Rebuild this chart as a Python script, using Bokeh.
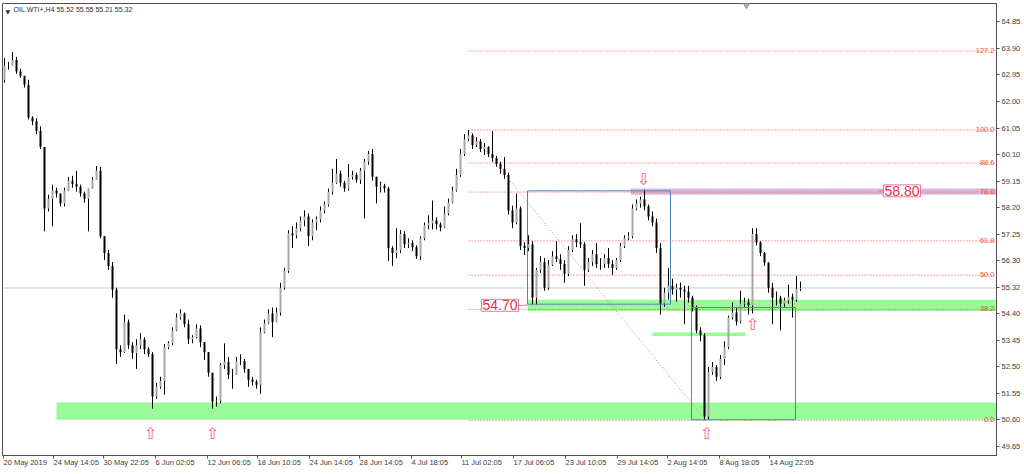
from bokeh.plotting import figure
from bokeh.models import ColumnDataSource, Range1d, FixedTicker, NumeralTickFormatter, Label, Span
from bokeh.core.properties import value
from bokeh.embed import file_html
from bokeh.resources import INLINE

# ---------------- data ----------------
chart_title = "OIL.WTI+,H4  55.52 55.55 55.21 55.32"
last_price = 55.32
first_open = 62.78

closes = [63.28, 63.28, 63.49, 63.07, 62.92, 62.60, 61.43, 61.29, 60.94, 60.37,
          58.17, 58.52, 58.81, 58.70, 58.35, 58.81, 59.16, 59.05, 58.95, 58.70,
          58.52, 58.88, 59.20, 59.52, 57.17, 56.57, 56.11, 55.26, 53.13, 53.02,
          54.09, 53.27, 52.99, 53.27, 53.48, 53.13, 52.95, 51.43, 51.78, 51.99,
          53.20, 53.34, 53.80, 54.26, 54.41, 54.02, 53.48, 53.56, 53.87, 53.38,
          53.02, 52.28, 51.25, 51.28, 52.56, 52.67, 52.21, 52.21, 52.70, 52.70,
          52.42, 52.03, 51.96, 51.85, 53.73, 54.05, 54.41, 54.09, 54.44, 55.33,
          55.93, 57.28, 57.21, 57.46, 57.74, 57.88, 57.17, 57.67, 57.78, 58.10,
          58.31, 58.77, 59.09, 59.41, 59.09, 58.88, 59.30, 59.37, 59.20, 59.52,
          59.84, 60.12, 59.30, 58.95, 58.98, 58.88, 56.75, 56.57, 56.68, 57.25,
          56.89, 56.93, 56.78, 56.46, 57.10, 57.57, 57.64, 57.74, 57.60, 57.49,
          57.99, 58.38, 58.81, 59.37, 60.12, 60.65, 60.79, 60.44, 60.58, 60.30,
          60.37, 60.12, 59.98, 59.76, 59.59, 59.37, 58.10, 57.67, 58.17, 56.82,
          56.75, 56.89, 54.97, 55.97, 56.25, 55.33, 56.15, 56.46, 56.36, 56.18,
          55.83, 56.68, 57.07, 56.96, 56.89, 55.97, 56.25, 56.53, 56.18, 56.18,
          56.39, 56.18, 56.04, 56.32, 56.82, 57.10, 57.17, 58.17, 58.35, 58.49,
          58.24, 57.88, 57.67, 56.75, 54.76, 55.15, 55.40, 55.26, 55.33, 55.26,
          55.19, 54.97, 54.62, 53.80, 53.63, 50.72, 52.31, 52.49, 52.14, 52.78,
          53.20, 54.26, 54.44, 54.12, 54.76, 54.80, 54.69, 57.25, 56.96, 56.57,
          56.22, 55.33, 54.97, 54.97, 54.76, 54.87, 55.01, 54.90, 55.29, 55.32]

highs = [63.56, 63.42, 63.77, 63.60, 63.17, 62.82, 62.78, 61.47, 61.40, 61.11,
         60.37, 58.66, 59.02, 58.91, 58.70, 58.91, 59.30, 59.34, 59.52, 59.02,
         58.77, 58.88, 59.30, 59.69, 59.66, 57.17, 56.68, 56.25, 55.33, 53.27,
         54.37, 54.19, 53.38, 53.48, 53.70, 53.56, 53.20, 53.02, 51.92, 52.14,
         53.31, 53.41, 53.91, 54.41, 54.55, 54.44, 54.19, 53.63, 54.02, 53.98,
         53.38, 53.02, 52.28, 51.43, 52.63, 53.34, 52.85, 52.42, 52.85, 52.95,
         52.78, 52.42, 52.14, 52.03, 53.91, 54.19, 54.55, 54.62, 54.62, 55.51,
         56.04, 57.39, 57.53, 57.67, 57.88, 58.10, 57.99, 57.78, 57.88, 58.24,
         58.42, 58.88, 59.59, 59.94, 59.52, 59.16, 59.76, 59.52, 59.45, 59.62,
         59.94, 60.23, 60.30, 59.30, 59.13, 59.05, 58.95, 56.82, 57.46, 57.39,
         57.35, 57.10, 57.03, 56.85, 57.17, 57.67, 57.92, 58.45, 57.85, 57.67,
         58.24, 58.52, 58.95, 59.59, 60.30, 60.83, 60.98, 60.86, 60.72, 60.65,
         60.51, 60.40, 60.94, 60.05, 59.84, 60.01, 59.45, 58.27, 58.70, 58.24,
         56.96, 57.21, 57.00, 56.04, 56.46, 56.39, 56.32, 56.64, 57.00, 56.53,
         56.32, 56.82, 57.21, 57.25, 57.64, 56.96, 56.39, 56.68, 56.93, 56.39,
         56.53, 56.75, 56.32, 56.39, 56.93, 57.21, 57.32, 58.31, 58.49, 58.59,
         58.84, 58.31, 58.06, 57.81, 56.93, 55.33, 56.04, 55.65, 55.47, 55.51,
         55.40, 55.40, 55.04, 54.69, 53.91, 53.70, 52.49, 52.67, 52.56, 52.92,
         53.41, 54.33, 54.80, 54.62, 55.22, 54.97, 54.94, 57.46, 57.46, 57.00,
         56.61, 56.25, 55.51, 55.19, 55.04, 54.97, 55.44, 55.12, 55.75, 55.55]

lows = [62.67, 63.14, 63.28, 62.99, 62.85, 62.50, 61.36, 61.15, 60.83, 60.30,
        57.35, 58.06, 57.53, 58.56, 58.24, 58.24, 58.81, 58.91, 58.77, 58.59,
        58.38, 57.35, 58.88, 59.20, 57.10, 56.32, 55.97, 54.97, 52.60, 52.85,
        52.99, 53.13, 52.78, 52.42, 53.13, 52.95, 52.85, 51.00, 51.35, 51.71,
        51.50, 53.13, 53.27, 53.77, 54.19, 53.91, 53.31, 53.34, 53.52, 53.20,
        52.74, 52.14, 51.00, 51.07, 51.18, 52.42, 52.06, 51.71, 52.21, 52.56,
        52.28, 51.78, 51.82, 51.71, 51.53, 53.70, 54.02, 53.56, 54.09, 54.33,
        55.26, 55.86, 56.75, 57.10, 57.35, 57.53, 56.82, 57.03, 57.39, 57.67,
        57.99, 58.24, 58.66, 59.05, 58.95, 58.77, 58.81, 59.20, 59.09, 59.05,
        57.81, 59.73, 59.16, 58.35, 58.74, 58.74, 56.29, 56.11, 56.39, 56.57,
        56.75, 56.75, 56.64, 56.36, 56.32, 57.03, 57.42, 57.42, 57.42, 57.35,
        57.46, 57.92, 58.35, 58.77, 59.30, 60.05, 60.58, 60.30, 60.37, 60.19,
        60.08, 60.01, 59.84, 59.66, 59.41, 59.23, 57.95, 57.46, 57.60, 56.68,
        56.50, 56.64, 54.73, 54.73, 55.86, 55.22, 55.26, 56.11, 56.25, 55.97,
        55.51, 55.75, 56.61, 56.78, 56.75, 55.40, 55.90, 56.11, 56.04, 55.97,
        56.04, 56.04, 55.79, 55.97, 56.25, 56.75, 57.03, 57.10, 58.10, 58.20,
        58.10, 57.74, 57.53, 56.57, 54.37, 54.65, 54.90, 55.08, 54.83, 54.97,
        54.02, 54.80, 54.48, 53.70, 53.41, 50.58, 50.61, 52.21, 51.99, 52.06,
        52.56, 53.13, 54.19, 53.98, 54.05, 54.62, 54.37, 54.41, 56.85, 56.46,
        56.11, 55.15, 54.02, 54.69, 53.80, 54.62, 54.76, 54.26, 54.83, 55.21]

price_ticks = [64.85, 63.90, 62.95, 62.00, 61.05, 60.10, 59.15, 58.20, 57.25,
               56.30, 55.32, 54.40, 53.45, 52.50, 51.55, 50.60, 49.65]

time_tick_bars = [0, 25, 50, 76, 102, 127, 153, 178, 204, 229, 255, 281, 307, 332, 358, 383]
time_tick_labels = ["20 May 2019", "24 May 14:05", "30 May 22:05", "6 Jun 02:05",
                    "12 Jun 06:05", "18 Jun 10:05", "24 Jun 14:05", "28 Jun 14:05",
                    "4 Jul 18:05", "11 Jul 02:05", "17 Jul 06:05", "23 Jul 10:05",
                    "29 Jul 14:05", "2 Aug 14:05", "8 Aug 18:05", "14 Aug 22:05"]

fib_low = 50.58
fib_high = 60.98
fib_start_bar = 232.5
fib_end_bar = 351
fib_ratios = [0.0, 38.2, 50.0, 61.8, 78.6, 88.6, 100.0, 127.2]
fib_names = ["0.0", "38.2", "50.0", "61.8", "78.6", "88.6", "100.0", "127.2"]
fib_colors = ["#c0603a", "#c0603a", "#ff4a4a", "#ff4a4a", "#ff4a4a", "#ff4a4a", "#ff4a4a", "#ff4a4a"]

zone_left = [26.5, 262, 324.5, 313.5]
zone_right = [520, 520, 371, 520]
zone_bottom = [50.60, 54.50, 53.60, 58.66]
zone_top = [51.22, 54.90, 53.73, 58.88]
zone_color = ["#98fb98", "#98fb98", "#98fb98", "#d9b9d9"]

box_left = [262, 344]
box_right = [333.5, 396]
box_top = [58.80, 54.62]
box_bottom = [54.74, 50.60]

up_arrow_bars = [73.5, 104.5, 351.5, 374.5]
up_arrow_prices = [50.11, 50.11, 50.11, 54.02]
down_arrow_bars = [320]
down_arrow_prices = [59.20]

level_texts = ["54.70", "58.80"]
level_bars = [257.5, 458.5]
level_prices = [54.70, 58.80]
level_tick_start = [257.5, 437]
level_tick_end = [262, 440]

shift_marker_bar = 371.5

# ---------------- figure ----------------
X0, X1 = -0.5, 496.5
Y0, Y1 = 49.32, 65.51
FONT = "Liberation Sans"

p = figure(width=1024, height=474, x_range=Range1d(X0, X1), y_range=Range1d(Y0, Y1),
           output_backend="svg", toolbar_location=None, y_axis_location="right",
           min_border_left=2, min_border_top=3, min_border_right=28, min_border_bottom=0,
           background_fill_color="white", border_fill_color="white")
p.grid.visible = False
p.outline_line_color = "#505050"

# zones
p.quad(left=zone_left, right=zone_right, bottom=zone_bottom, top=zone_top,
       fill_color=zone_color, line_color=None)

# current price line
p.add_layout(Span(location=last_price, dimension="width", line_color="#c8c8c8",
                  line_width=1, level="underlay"))

# fib levels
span = fib_high - fib_low
fib_prices = [fib_low + r / 100.0 * span for r in fib_ratios]
p.segment(x0=[fib_start_bar] * len(fib_prices), x1=[520] * len(fib_prices),
          y0=fib_prices, y1=fib_prices, line_color=fib_colors, line_dash="1 2", line_width=1)
p.segment(x0=[fib_start_bar], y0=[fib_high], x1=[fib_end_bar], y1=[fib_low],
          line_color="#ff7070", line_dash="1 2", line_width=1)
p.text(x=[X1] * len(fib_prices), y=fib_prices, text=fib_names, text_color=fib_colors,
       text_align="right", text_baseline="bottom", x_offset=-2, y_offset=2,
       text_font=value(FONT), text_font_size="7.5px")

# candles
n = len(closes)
bar_x = [2 * j + 0.5 for j in range(n)]
opens = [first_open] + closes[:-1]
tops = [max(o, c) for o, c in zip(opens, closes)]
bots = [min(o, c) for o, c in zip(opens, closes)]
cols = ["#a8a8a8" if c >= o else "#000000" for o, c in zip(opens, closes)]
src = ColumnDataSource(dict(x=bar_x, h=highs, l=lows, top=tops, bottom=bots, color=cols))
p.segment(x0="x", y0="h", x1="x", y1="l", line_color="#000000", line_width=1, source=src)
p.vbar(x="x", width=1.0, top="top", bottom="bottom", fill_color="color", line_color=None, source=src)

# rectangles
p.quad(left=box_left, right=box_right, bottom=box_bottom, top=box_top,
       fill_alpha=0, line_color="#4a86c0", line_width=1)

# arrows
p.text(x=up_arrow_bars, y=up_arrow_prices, text=["\u21e7"] * len(up_arrow_bars),
       text_color="#ff5a78", text_align="center", text_baseline="middle",
       text_font=value("DejaVu Sans"), text_font_size="16px")
p.text(x=down_arrow_bars, y=down_arrow_prices, text=["\u21e9"] * len(down_arrow_bars),
       text_color="#ff5a78", text_align="center", text_baseline="middle",
       text_font=value("DejaVu Sans"), text_font_size="16px")

# chart shift marker
p.scatter(x=[shift_marker_bar], y=[Y1], marker="inverted_triangle", size=9,
          fill_color="#b0b0b0", line_color="#909090")

# price level labels
p.segment(x0=level_tick_start, x1=level_tick_end, y0=level_prices, y1=level_prices,
          line_color="#f07890", line_width=1)
for t, xb, yp in zip(level_texts, level_bars, level_prices):
    p.add_layout(Label(x=xb, y=yp, text=t, text_align="right", text_baseline="middle",
                       text_color="#e4304f", text_font=FONT, text_font_size="14px",
                       background_fill_color="white", border_line_color="#f07890",
                       padding=1))

# title
p.add_layout(Label(x=X0, y=Y1, x_offset=3, y_offset=-4, text="\u25bc", text_baseline="top",
                   text_color="#303030", text_font="DejaVu Sans", text_font_size="6px"))
p.add_layout(Label(x=X0, y=Y1, x_offset=11, y_offset=-2, text=chart_title, text_baseline="top",
                   text_color="#303030", text_font=FONT, text_font_size="7px"))

# axes
ya = p.yaxis[0]
ya.ticker = FixedTicker(ticks=price_ticks)
ya.formatter = NumeralTickFormatter(format="0.00")
ya.major_tick_out = 3
ya.major_tick_in = 0
ya.minor_tick_out = 0
ya.minor_tick_in = 0
ya.axis_line_color = "#505050"
ya.major_tick_line_color = "#505050"
ya.major_label_text_font = FONT
ya.major_label_text_font_size = "7.5px"
ya.major_label_text_color = "#404040"
ya.major_label_standoff = 2

xa = p.xaxis[0]
xa.ticker = FixedTicker(ticks=time_tick_bars)
xa.major_label_overrides = {b: t for b, t in zip(time_tick_bars, time_tick_labels)}
xa.major_tick_out = 3
xa.major_tick_in = 0
xa.minor_tick_out = 0
xa.minor_tick_in = 0
xa.axis_line_color = "#505050"
xa.major_tick_line_color = "#505050"
xa.major_label_text_font = FONT
xa.major_label_text_font_size = "7.5px"
xa.major_label_text_color = "#404040"
xa.major_label_orientation = -0.0001
xa.major_label_standoff = 4

open("out.html", "w").write(file_html(p, INLINE))
